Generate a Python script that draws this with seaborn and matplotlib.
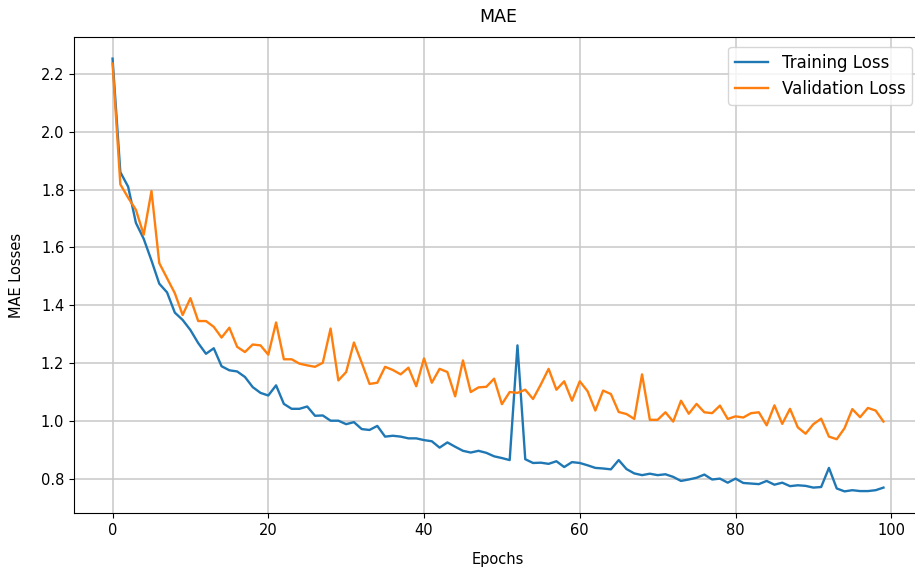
import matplotlib
matplotlib.use("Agg")
import matplotlib.pyplot as plt
import seaborn as sns
import numpy as np

epochs = list(range(100))

training_loss = [
    2.252, 1.860, 1.810, 1.685, 1.630, 1.555, 1.475, 1.445, 1.375, 1.350,
    1.315, 1.270, 1.233, 1.252, 1.190, 1.176, 1.172, 1.153, 1.118, 1.098,
    1.089, 1.124, 1.060, 1.043, 1.043, 1.051, 1.019, 1.020, 1.002, 1.002,
    0.990, 0.997, 0.973, 0.970, 0.984, 0.947, 0.950, 0.947, 0.941, 0.941,
    0.935, 0.931, 0.909, 0.927, 0.912, 0.898, 0.892, 0.898, 0.891, 0.879,
    0.873, 0.866, 1.262, 0.869, 0.856, 0.857, 0.853, 0.862, 0.842, 0.859,
    0.856, 0.848, 0.839, 0.837, 0.834, 0.866, 0.835, 0.820, 0.814, 0.819,
    0.814, 0.817, 0.808, 0.794, 0.799, 0.805, 0.816, 0.799, 0.802, 0.788,
    0.802, 0.787, 0.785, 0.783, 0.794, 0.781, 0.788, 0.776, 0.779, 0.777,
    0.771, 0.773, 0.839, 0.768, 0.758, 0.762, 0.759, 0.759, 0.762, 0.771,
]

validation_loss = [
    2.235, 1.818, 1.772, 1.730, 1.644, 1.795, 1.546, 1.494, 1.442, 1.367,
    1.425, 1.346, 1.346, 1.326, 1.289, 1.323, 1.257, 1.239, 1.265, 1.262,
    1.230, 1.341, 1.214, 1.214, 1.199, 1.193, 1.188, 1.202, 1.320, 1.141,
    1.170, 1.272, 1.202, 1.129, 1.133, 1.188, 1.177, 1.162, 1.185, 1.121,
    1.217, 1.133, 1.181, 1.170, 1.086, 1.210, 1.101, 1.117, 1.119, 1.147,
    1.059, 1.101, 1.098, 1.109, 1.077, 1.127, 1.181, 1.109, 1.138, 1.071,
    1.138, 1.104, 1.037, 1.106, 1.094, 1.032, 1.025, 1.008, 1.162, 1.005,
    1.005, 1.031, 0.999, 1.071, 1.026, 1.060, 1.031, 1.028, 1.054, 1.008,
    1.017, 1.013, 1.028, 1.031, 0.986, 1.055, 0.991, 1.043, 0.979, 0.957,
    0.990, 1.009, 0.947, 0.938, 0.976, 1.042, 1.014, 1.046, 1.037, 0.999,
]

fig = plt.figure(figsize=(9.15, 5.72), dpi=100)
ax = fig.add_axes([74 / 915, 1 - 513 / 572, (922 - 74) / 915, (513 - 37) / 572])

sns.lineplot(x=epochs, y=training_loss, ax=ax, color="tab:blue",
             label="Training Loss", linewidth=1.7)
sns.lineplot(x=epochs, y=validation_loss, ax=ax, color="tab:orange",
             label="Validation Loss", linewidth=1.7)

ax.set_title("MAE", fontsize=12.5, pad=11)
ax.set_xlabel("Epochs", fontsize=10.5, labelpad=10)
ax.set_ylabel("MAE Losses", fontsize=10.5, labelpad=12)
ax.grid(True, color="#c8c8c8", linewidth=1.1)
ax.set_axisbelow(True)
ax.tick_params(labelsize=10.5)
ax.spines["right"].set_visible(False)
ax.legend(loc="upper right", fontsize=12, borderaxespad=0.6)

fig.savefig("out.png", dpi=100)
